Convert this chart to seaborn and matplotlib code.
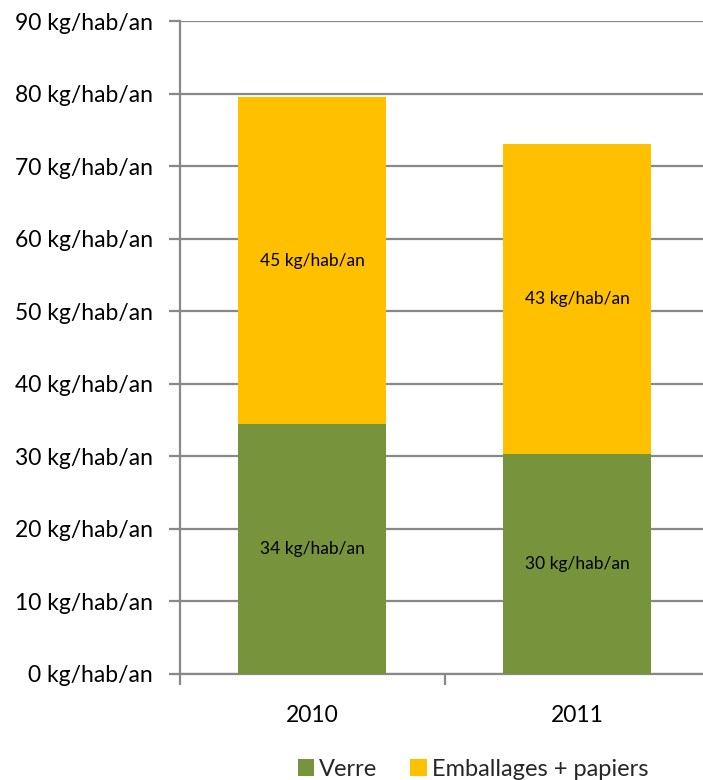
import matplotlib
matplotlib.use("Agg")
import matplotlib.pyplot as plt
import seaborn as sns
import pandas as pd
from matplotlib.patches import Patch

# Collected waste per inhabitant, by year
years = ["2010", "2011"]
verre = [34.4, 30.3]
emballages = [45.1, 42.8]
y_ticks = [0, 10, 20, 30, 40, 50, 60, 70, 80, 90]
series_names = ["Verre", "Emballages + papiers"]

GREEN = "#77933C"
ORANGE = "#FFC000"
GRID = "#888888"

sns.set_theme(style="white")
plt.rcParams["font.family"] = ["Lato", "DejaVu Sans"]

df = pd.DataFrame({
    "year": years,
    "verre": verre,
    "emballages": emballages,
})
df["total"] = df["verre"] + df["emballages"]

fig = plt.figure(figsize=(7.03, 7.8), dpi=100)
ax = fig.add_axes([179.5 / 703, 106 / 780, 530 / 703, 653 / 780])

# stacked bars: total (upper segment) first, then the lower segment over it
sns.barplot(data=df, x="year", y="total", color=ORANGE, saturation=1,
            width=0.558, ax=ax, zorder=3)
sns.barplot(data=df, x="year", y="verre", color=GREEN, saturation=1,
            width=0.558, ax=ax, zorder=4)
for p in ax.patches:
    p.set_edgecolor("none")
    p.set_linewidth(0)

# segment labels
for i, (v, e) in enumerate(zip(verre, emballages)):
    ax.text(i, v / 2, f"{v:.0f} kg/hab/an", ha="center", va="center",
            fontsize=12.5, color="black", zorder=5)
    ax.text(i, v + e / 2, f"{e:.0f} kg/hab/an", ha="center", va="center",
            fontsize=12.5, color="black", zorder=5)

ax.set_xlim(-0.5, 1.5)
ax.set_ylim(0, 90)
ax.set_yticks(y_ticks)
ax.set_yticklabels([f"{t} kg/hab/an" for t in y_ticks])
ax.set_xticks([0, 1])
ax.set_xticklabels(years)
ax.set_xlabel("")
ax.set_ylabel("")

ax.yaxis.grid(True, color=GRID, linewidth=1.6, zorder=0)
ax.set_axisbelow(True)
for side in ["top", "right"]:
    ax.spines[side].set_visible(False)
for side in ["left", "bottom"]:
    ax.spines[side].set_color(GRID)
    ax.spines[side].set_linewidth(1.6)

ax.tick_params(axis="y", which="both", left=True, length=8, width=1.6,
               color=GRID, labelsize=16.5, labelcolor="black", pad=11)
ax.tick_params(axis="x", bottom=False, labelsize=16.5, labelcolor="black", pad=16)
# category boundary ticks on the x axis
ax.set_xticks([-0.5, 0.5, 1.5], minor=True)
ax.tick_params(axis="x", which="minor", bottom=True, length=8, width=1.6, color=GRID)

handles = [Patch(facecolor=GREEN, edgecolor="none"),
           Patch(facecolor=ORANGE, edgecolor="none")]
fig.legend(handles, series_names, loc="center", bbox_to_anchor=(473 / 703, 1 - 769 / 780),
           ncol=2, frameon=False, fontsize=17, handlelength=0.7, handleheight=0.7,
           handletextpad=0.2, columnspacing=1.4, borderaxespad=0)

fig.savefig("out.png", dpi=100)
